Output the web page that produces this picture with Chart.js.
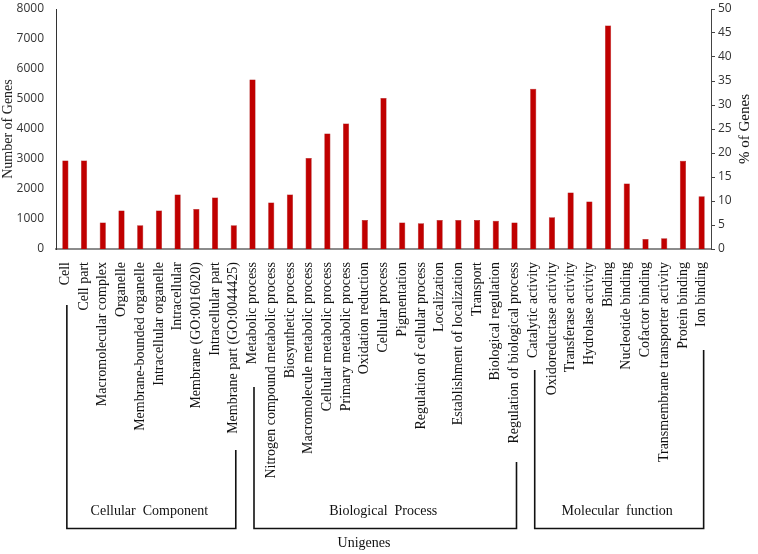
<!DOCTYPE html>
<html>
<head>
<meta charset="utf-8">
<script src="https://cdn.jsdelivr.net/npm/chart.js@4.4.1/dist/chart.umd.min.js"></script>
<style>
  html, body { margin: 0; padding: 0; background: #fff; }
  #wrap { width: 758px; height: 554px; }
</style>
</head>
<body>
<div id="wrap"><canvas id="go-chart" width="758" height="554"></canvas></div>
<script>
// GO categories (x axis)
const categories = [
  "Cell", "Cell part", "Macromolecular complex", "Organelle", "Membrane-bounded organelle",
  "Intracellular organelle", "Intracellular", "Membrane (GO:0016020)", "Intracellular part",
  "Membrane part (GO:0044425)",
  "Metabolic process", "Nitrogen compound metabolic process", "Biosynthetic process",
  "Macromolecule metabolic process", "Cellular metabolic process", "Primary metabolic process",
  "Oxidation reduction", "Cellular process", "Pigmentation", "Regulation of cellular process",
  "Localization", "Establishment of localization", "Transport", "Biological regulation",
  "Regulation of biological process",
  "Catalytic activity", "Oxidoreductase activity", "Transferase activity", "Hydrolase activity",
  "Binding", "Nucleotide binding", "Cofactor binding", "Transmembrane transporter activity",
  "Protein binding", "Ion binding"
];

// number of genes per category
const geneCounts = [
  2950, 2950, 880, 1280, 790, 1280, 1820, 1330, 1720, 790,
  5650, 1550, 1820, 3030, 3850, 4180, 970, 5030, 880, 860, 970, 970, 970, 940, 880,
  5340, 1060, 1880, 1580, 7450, 2180, 330, 360, 2940, 1760
];

// the three GO groups: name, first and last category index
const groupNames = ["Cellular  Component", "Biological  Process", "Molecular  function"];
const groupFirst = [0, 10, 25];
const groupLast = [9, 24, 34];

const leftTicks = [0, 1000, 2000, 3000, 4000, 5000, 6000, 7000, 8000];
const rightTicks = [0, 5, 10, 15, 20, 25, 30, 35, 40, 45, 50];

const serif = "'Liberation Serif', 'Times New Roman', serif";
const sans = "'Open Sans', 'Noto Sans', sans-serif";

// brackets under the labels, group names, "Unigenes" and the right axis title
const groupBrackets = {
  id: "groupBrackets",
  afterDraw(chart) {
    const ctx = chart.ctx;
    const x = chart.scales.x;
    // top of the left / right vertical stroke of each bracket
    const tops = [[305, 450], [387, 462], [370, 350]];
    const bottom = 528.5;
    ctx.save();
    ctx.strokeStyle = "#111";
    ctx.lineWidth = 1.6;
    ctx.fillStyle = "#111";
    ctx.font = "14px " + serif;
    ctx.textAlign = "center";
    ctx.textBaseline = "middle";
    groupNames.forEach((name, i) => {
      const x0 = x.getPixelForValue(groupFirst[i]) + 1.5;
      const x1 = x.getPixelForValue(groupLast[i]) + 2;
      ctx.beginPath();
      ctx.moveTo(x0, tops[i][0]);
      ctx.lineTo(x0, bottom);
      ctx.lineTo(x1, bottom);
      ctx.lineTo(x1, tops[i][1]);
      ctx.stroke();
      ctx.fillText(name, (x0 + x1) / 2 - 2, 511);
    });
    ctx.fillText("Unigenes", 364, 543);

    // right axis title, reading bottom to top
    const area = chart.chartArea;
    ctx.translate(745, (area.top + area.bottom) / 2);
    ctx.rotate(-Math.PI / 2);
    ctx.font = "15px " + serif;
    ctx.fillText("% of Genes", 0, 0);
    ctx.restore();
  }
};

// fixed axis width, no extra padding for the end labels
function fitAxis(width) {
  return (scale) => {
    scale.width = width;
    scale.paddingTop = 0;
    scale.paddingBottom = 0;
  };
}

new Chart("go-chart", {
  type: "bar",
  data: {
    labels: categories,
    datasets: [
      {
        label: "Number of Genes",
        data: geneCounts,
        backgroundColor: "#c00000",
        borderColor: "#a00000",
        borderWidth: 0.5,
        barPercentage: 0.33,
        categoryPercentage: 1,
        yAxisID: "y",
      },
    ],
  },
  options: {
    responsive: false,
    animation: false,
    layout: { padding: { top: 9, left: 0, right: 0, bottom: 0 } },
    plugins: {
      legend: { display: false },
      tooltip: { enabled: false },
    },
    scales: {
      x: {
        grid: { display: false },
        border: { display: true, color: "#8c8c8c", width: 2 },
        ticks: {
          autoSkip: false,
          minRotation: 90,
          maxRotation: 90,
          padding: 5,
          color: "#111",
          font: { family: serif, size: 14 },
        },
        afterFit: (scale) => { scale.height = 305; },
      },
      y: {
        position: "left",
        min: 0,
        max: 8000,
        afterBuildTicks: (scale) => { scale.ticks = leftTicks.map((v) => ({ value: v })); },
        grid: { display: false },
        border: { display: true, color: "#333", width: 1 },
        ticks: {
          padding: 4,
          color: "#333",
          font: { family: sans, size: 12 },
          callback: (v) => String(v),
        },
        title: {
          display: true,
          text: "Number of Genes",
          color: "#222",
          padding: { top: 0, bottom: 0 },
          font: { family: serif, size: 14 },
        },
        afterFit: fitAxis(56),
      },
      y1: {
        position: "right",
        display: true,
        min: 0,
        max: 50,
        afterBuildTicks: (scale) => { scale.ticks = rightTicks.map((v) => ({ value: v })); },
        grid: { display: true, drawOnChartArea: false, drawTicks: true, tickLength: 4, color: "#444" },
        border: { display: true, color: "#444", width: 1 },
        ticks: {
          padding: 3,
          color: "#333",
          font: { family: sans, size: 12 },
          callback: (v) => String(v),
        },
        afterFit: fitAxis(47),
      },
    },
  },
  plugins: [groupBrackets],
});
</script>
</body>
</html>
